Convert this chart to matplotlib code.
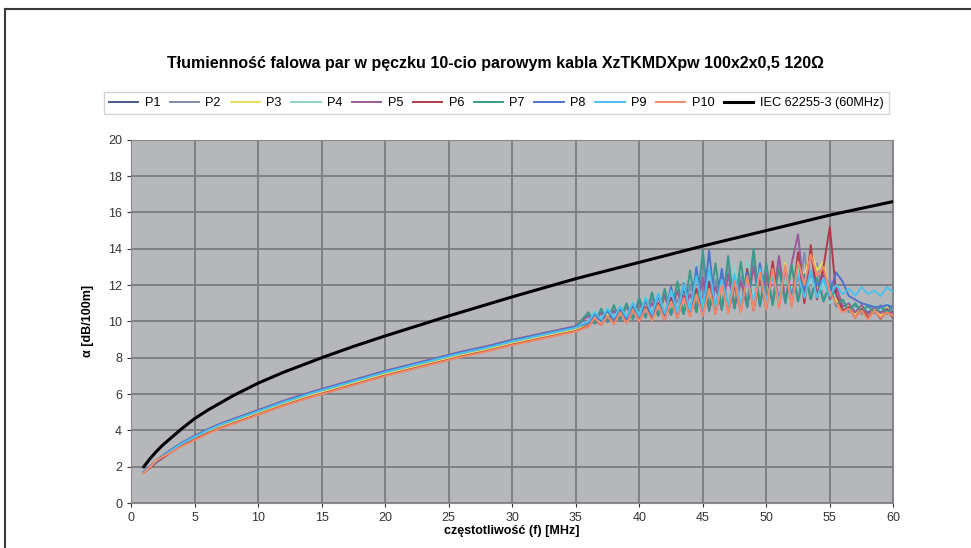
import numpy as np
import matplotlib.pyplot as plt
from matplotlib.lines import Line2D

plt.rcParams['font.family'] = ['Liberation Sans', 'DejaVu Sans']

# częstotliwości wspólne dla par (MHz)
freq = [1, 2, 3, 4, 5, 6, 7, 8, 10, 12, 14, 16, 18, 20, 22, 24, 26, 28, 30, 32, 34, 35,
        36, 36.5, 37, 37.5, 38, 38.5, 39, 39.5, 40, 40.5, 41, 41.5, 42, 42.5, 43, 43.5,
        44, 44.5, 45, 45.5, 46, 46.5, 47, 47.5, 48, 48.5, 49, 49.5, 50, 50.5, 51, 51.5,
        52, 52.5, 53, 53.5, 54, 54.5, 55, 55.5, 56, 56.5, 57, 57.5, 58, 58.5, 59, 59.5, 60]

p1 = [1.70, 2.32, 2.83, 3.28, 3.64, 3.99, 4.30, 4.55, 5.05, 5.56, 6.01, 6.41, 6.81, 7.21, 7.56, 7.92, 8.27, 8.57, 8.92, 9.22, 9.52, 9.67,
      9.85, 10.5, 9.95, 10.6, 10.05, 10.7, 10.1, 10.9, 10.2, 11.2, 10.3, 11.4, 10.35, 11.3, 10.4, 11.8, 10.5, 12.6, 10.6, 12.2, 10.7, 12.5,
      10.75, 12.0, 10.8, 12.8, 10.9, 12.4, 11.0, 13.0, 11.1, 12.6, 11.2, 13.2, 11.3, 12.8, 11.3, 12.5, 11.1, 11.8, 10.8, 11.0, 10.6, 10.9,
      10.5, 10.8, 10.5, 10.9, 10.5]
p2 = [1.70, 2.30, 2.80, 3.25, 3.60, 3.95, 4.25, 4.50, 5.00, 5.50, 5.95, 6.35, 6.75, 7.15, 7.50, 7.85, 8.20, 8.50, 8.85, 9.15, 9.45, 9.60,
      10.4, 9.85, 10.5, 9.95, 10.6, 10.05, 10.8, 10.1, 11.0, 10.2, 11.3, 10.3, 11.5, 10.35, 11.2, 10.4, 12.0, 10.5, 12.8, 10.55, 12.3, 10.6,
      13.0, 10.7, 12.5, 10.75, 13.4, 10.8, 12.8, 10.9, 13.5, 11.0, 13.0, 11.1, 13.8, 11.2, 13.2, 11.1, 12.4, 10.8, 11.2, 10.5, 10.9, 10.4,
      10.8, 10.45, 10.9, 10.4, 10.7]
p3 = [1.68, 2.27, 2.77, 3.21, 3.56, 3.90, 4.20, 4.45, 4.95, 5.45, 5.90, 6.30, 6.70, 7.10, 7.44, 7.79, 8.14, 8.44, 8.79, 9.09, 9.39, 9.54,
      9.8, 10.2, 9.9, 10.4, 10.0, 10.5, 10.05, 10.6, 10.15, 10.8, 10.2, 11.0, 10.3, 11.1, 10.35, 11.3, 10.4, 11.6, 10.5, 11.9, 10.55, 12.2,
      10.6, 12.4, 10.7, 12.6, 10.75, 12.8, 10.8, 13.0, 10.9, 13.2, 11.0, 13.6, 12.4, 13.9, 12.8, 13.3, 11.4, 11.2, 10.6, 10.9, 10.3, 10.8,
      10.25, 10.7, 10.3, 10.8, 10.3]
p4 = [1.72, 2.34, 2.86, 3.32, 3.68, 4.04, 4.35, 4.60, 5.10, 5.61, 6.06, 6.46, 6.86, 7.26, 7.61, 7.96, 8.32, 8.62, 8.97, 9.27, 9.57, 9.72,
      10.0, 10.6, 10.1, 10.8, 10.15, 10.9, 10.2, 11.1, 10.3, 11.4, 10.35, 11.6, 10.4, 11.9, 10.5, 12.3, 10.6, 13.2, 10.7, 13.6, 10.75, 12.8,
      10.8, 13.1, 10.9, 13.4, 11.0, 12.7, 11.0, 13.0, 11.1, 12.5, 11.2, 12.9, 11.3, 12.4, 11.2, 12.1, 11.0, 11.6, 10.7, 11.1, 10.6, 11.0,
      10.6, 10.9, 10.6, 11.0, 10.7]
p5 = [1.72, 2.35, 2.87, 3.33, 3.70, 4.06, 4.37, 4.62, 5.12, 5.63, 6.08, 6.48, 6.88, 7.28, 7.63, 7.98, 8.34, 8.64, 8.99, 9.29, 9.59, 9.74,
      10.3, 9.9, 10.5, 10.0, 10.6, 10.1, 10.9, 10.2, 11.1, 10.3, 11.0, 10.35, 11.4, 10.4, 11.7, 10.5, 11.5, 10.55, 12.4, 10.6, 11.9, 10.7,
      12.6, 10.75, 12.2, 10.8, 13.0, 10.9, 12.6, 11.0, 13.6, 11.1, 13.2, 14.8, 11.3, 13.9, 11.4, 12.9, 11.2, 12.0, 10.8, 11.0, 10.5, 10.9,
      10.4, 10.8, 10.45, 10.7, 10.4]
p6 = [1.66, 2.24, 2.73, 3.16, 3.50, 3.84, 4.13, 4.38, 4.88, 5.38, 5.82, 6.22, 6.62, 7.02, 7.37, 7.72, 8.07, 8.37, 8.72, 9.02, 9.32, 9.47,
      9.75, 10.1, 9.8, 10.3, 9.9, 10.5, 9.95, 10.6, 10.0, 10.8, 10.1, 11.0, 10.1, 11.2, 10.2, 11.4, 10.3, 11.8, 10.35, 12.1, 10.4, 12.4,
      10.5, 12.0, 10.55, 12.9, 10.6, 12.5, 10.7, 13.3, 10.8, 13.0, 10.9, 13.8, 11.0, 14.2, 11.2, 13.0, 15.2, 11.5, 10.6, 10.8, 10.2, 10.7,
      10.2, 10.6, 10.15, 10.6, 10.2]
p7 = [1.71, 2.33, 2.85, 3.30, 3.66, 4.02, 4.32, 4.58, 5.08, 5.58, 6.03, 6.43, 6.83, 7.23, 7.58, 7.94, 8.29, 8.59, 8.94, 9.24, 9.54, 9.69,
      10.5, 9.9, 10.7, 10.0, 10.9, 10.05, 11.0, 10.15, 11.3, 10.2, 11.6, 10.3, 11.8, 10.35, 12.2, 10.4, 12.8, 10.5, 13.9, 10.6, 13.2, 10.65,
      13.6, 10.7, 13.3, 10.8, 14.0, 10.85, 13.2, 10.9, 12.9, 11.0, 13.1, 11.1, 12.6, 11.2, 12.4, 11.1, 11.9, 10.9, 11.2, 10.6, 11.0, 10.5,
      10.9, 10.5, 10.8, 10.5, 10.8]
p8 = [1.72, 2.33, 2.85, 3.31, 3.67, 4.03, 4.34, 4.60, 5.10, 5.60, 6.05, 6.45, 6.85, 7.25, 7.60, 7.95, 8.30, 8.60, 8.95, 9.25, 9.55, 9.70,
      9.9, 10.4, 10.0, 10.6, 10.05, 10.8, 10.1, 11.0, 10.2, 11.2, 10.25, 11.5, 10.3, 11.9, 10.35, 12.1, 10.4, 13.0, 10.45, 13.9, 10.5, 12.9,
      10.55, 12.4, 10.6, 12.7, 10.7, 13.2, 10.9, 12.6, 11.2, 12.8, 11.5, 12.4, 11.8, 12.6, 12.0, 12.3, 11.6, 12.7, 12.2, 11.4, 11.2, 11.0,
      10.9, 10.8, 10.8, 10.9, 10.8]
p9 = [1.70, 2.31, 2.82, 3.28, 3.64, 3.99, 4.30, 4.55, 5.05, 5.55, 6.00, 6.40, 6.80, 7.20, 7.55, 7.90, 8.25, 8.55, 8.90, 9.20, 9.50, 9.65,
      10.0, 10.5, 10.1, 10.7, 10.2, 10.8, 10.25, 11.0, 10.3, 11.3, 10.4, 11.5, 10.45, 11.7, 10.5, 12.0, 10.6, 12.5, 10.7, 12.9, 10.8, 12.3,
      10.85, 12.6, 10.9, 12.2, 11.0, 12.9, 11.05, 12.5, 11.1, 13.0, 11.2, 12.6, 11.3, 12.8, 11.3, 12.4, 11.4, 12.0, 11.5, 11.8, 11.4, 11.9,
      11.5, 11.7, 11.4, 11.9, 11.6]
p10 = [1.65, 2.36, 2.74, 3.12, 3.46, 3.80, 4.10, 4.35, 4.85, 5.35, 5.79, 6.19, 6.59, 6.99, 7.34, 7.69, 8.04, 8.34, 8.69, 8.99, 9.29, 9.44,
       9.7, 10.2, 9.8, 10.3, 9.85, 10.5, 9.9, 10.6, 10.0, 10.7, 10.05, 10.9, 10.1, 11.1, 10.2, 11.3, 10.25, 11.5, 10.3, 11.8, 10.4, 12.0,
       10.45, 12.2, 10.5, 12.5, 10.6, 12.7, 10.65, 12.9, 10.7, 13.1, 10.8, 13.3, 12.0, 13.7, 12.5, 13.0, 11.6, 11.0, 10.5, 10.7, 10.2, 10.6,
       10.1, 10.6, 10.2, 10.5, 10.3]

# krzywa graniczna IEC 62255-3 (60MHz)
iec_f = [1, 1.5, 2, 2.5, 3, 4, 5, 6, 7, 8, 10, 12, 15, 17.5, 20, 25, 30, 35, 40, 45, 50, 55, 60]
iec_a = [2.0, 2.45, 2.85, 3.2, 3.5, 4.1, 4.65, 5.1, 5.5, 5.9, 6.6, 7.2, 8.0, 8.62, 9.2, 10.3,
         11.35, 12.35, 13.25, 14.15, 15.0, 15.85, 16.6]

pairs = [p1, p2, p3, p4, p5, p6, p7, p8, p9, p10]
labels = ['P1', 'P2', 'P3', 'P4', 'P5', 'P6', 'P7', 'P8', 'P9', 'P10']
colors = ['#4a5a8c', '#7e8cb0', '#e6e05a', '#8fd0cc', '#9a5a9a',
          '#b03a4a', '#3a9a8a', '#4f72cc', '#4cc0ec', '#f08a6a']

fig = plt.figure(figsize=(9.71, 5.48), dpi=100)
ax = fig.add_axes([0.135, 0.082, 0.785, 0.663])
ax.set_facecolor('#b5b7bb')

for y, lab, c in zip(pairs, labels, colors):
    ax.plot(freq, y, color=c, lw=1.4, label=lab)
ax.plot(iec_f, iec_a, color='black', lw=2.2, label='IEC 62255-3 (60MHz)')

ax.set_xlim(0, 60)
ax.set_ylim(0, 20)
ax.set_xticks(np.arange(0, 61, 5))
ax.set_yticks(np.arange(0, 21, 2))
ax.grid(True, color='#7a7c81', lw=1.3)
ax.set_axisbelow(True)
for s in ax.spines.values():
    s.set_color('#8a8a8a')
ax.tick_params(labelsize=9, colors='#333333', length=3)

ax.set_xlabel('częstotliwość (f) [MHz]', fontsize=9, fontweight='bold', labelpad=1)
ax.set_ylabel('α [dB/100m]', fontsize=9, fontweight='bold', labelpad=10)

fig.text(0.51, 0.885, 'Tłumienność falowa par w pęczku 10-cio parowym kabla XzTKMDXpw 100x2x0,5 120Ω',
         ha='center', va='center', fontsize=11.5, fontweight='bold')

leg = fig.legend(loc='center', bbox_to_anchor=(0.511, 0.812), ncol=11, fontsize=9.2,
                 handlelength=2.3, columnspacing=0.75, handletextpad=0.5,
                 frameon=True, fancybox=False, borderpad=0.4)
leg.get_frame().set_edgecolor('#c8c8c8')
leg.get_frame().set_linewidth(1.0)

# ramka skanu
fig.add_artist(Line2D([0.005, 1.0], [0.983, 0.983], color='#3a3a3a', lw=1.5))
fig.add_artist(Line2D([0.005, 0.005], [0.0, 0.983], color='#3a3a3a', lw=1.5))

fig.savefig('out.png', dpi=100)
